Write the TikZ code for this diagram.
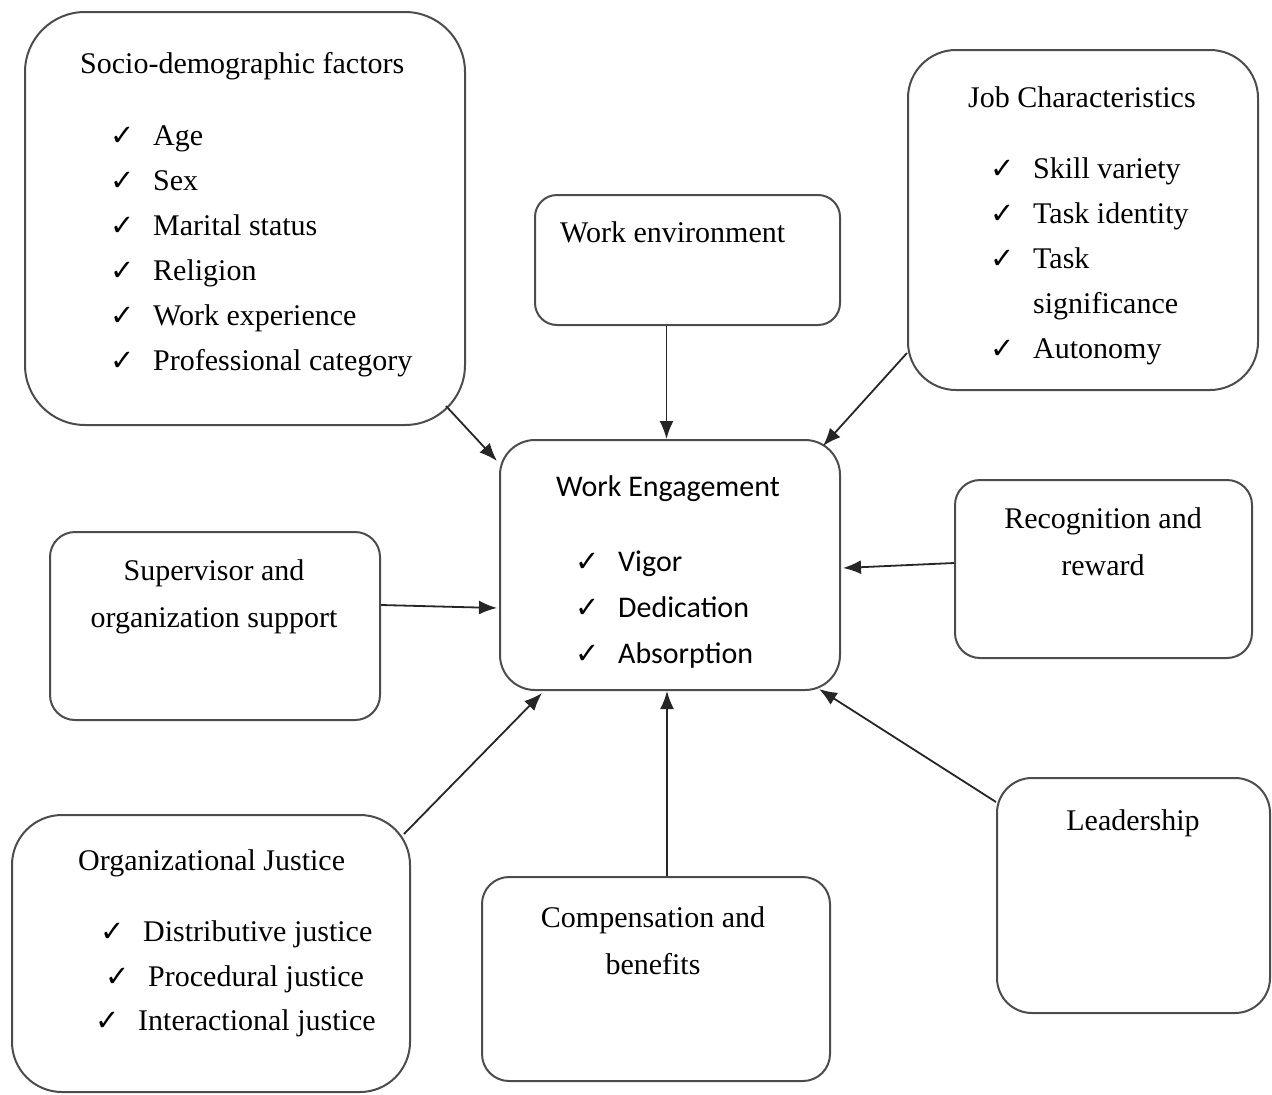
\documentclass[tikz,border=0pt]{standalone}
\usepackage{fontspec}
\setmainfont{Liberation Serif}
\newfontfamily\engfont{Carlito}
\newfontfamily\symfont{DejaVu Sans}
\usetikzlibrary{arrows.meta,calc}
\newcommand{\chk}{\makebox[43pt][l]{\symfont\fontsize{29}{29}\selectfont ✓}}
\newcommand{\nochk}{\hspace*{43pt}}

\tikzset{
  box/.style={draw=black!70, line width=2pt, rectangle, inner sep=0pt},
  lbl/.style={inner sep=0pt, font=\fontsize{30}{36}\selectfont, text height=24pt, text depth=4pt},
  arr/.style={draw=black!85, line width=1.8pt, -{Latex[length=18pt,width=14pt]}},
}

\begin{document}
\begin{tikzpicture}[x=1pt, y=-1pt]
  \useasboundingbox (0,0) rectangle (1272,1095);
  % boxes
  \node[box, rounded corners=60pt, minimum width=440pt, minimum height=413pt] (socio) at (245,218.5) {};
  \node[box, rounded corners=22pt, minimum width=305pt, minimum height=130pt] (workenv) at (687.5,260) {};
  \node[box, rounded corners=48pt, minimum width=350pt, minimum height=340pt] (job) at (1083,220) {};
  \node[box, rounded corners=35pt, minimum width=340pt, minimum height=250pt] (engage) at (670,565) {};
  \node[box, rounded corners=25pt, minimum width=330pt, minimum height=188pt] (superv) at (215,626) {};
  \node[box, rounded corners=25pt, minimum width=297pt, minimum height=178pt] (recog) at (1103.5,569) {};
  \node[box, rounded corners=50pt, minimum width=398pt, minimum height=277pt] (justice) at (211,953.5) {};
  \node[box, rounded corners=27pt, minimum width=348pt, minimum height=204pt] (comp) at (656,979) {};
  \node[box, rounded corners=35pt, minimum width=273pt, minimum height=235pt] (leader) at (1133.5,895.5) {};

  % socio-demographic factors
  \node[lbl, anchor=west] (sdtitle) at (80,63) {Socio-demographic factors};
  \foreach \t [count=\i] in {Age, Sex, Marital status, Religion, Work experience, Professional category}
    \node[lbl, anchor=west] (sd\i) at (110, 90+45*\i) {\chk\t};

  % job characteristics
  \node[lbl, anchor=west] (jctitle) at (968,97) {Job Characteristics};
  \foreach \c/\t [count=\i] in {\chk/Skill variety, \chk/Task identity, \chk/Task, \nochk/significance, \chk/Autonomy}
    \node[lbl, anchor=west] (jc\i) at (990, 122.8+45.2*\i) {\c\t};

  \node[lbl, anchor=west] (wetext) at (560,232) {Work environment};

  % work engagement
  \node[lbl, font=\engfont\fontsize{30}{36}\selectfont] (wetitle) at (668,486) {Work Engagement};
  \foreach \t [count=\i] in {Vigor, Dedication, Absorption}
    \node[lbl, anchor=west, font=\engfont\fontsize{30}{36}\selectfont] (eng\i) at (575, 515.5+46*\i) {\chk\t};

  \node[lbl] (sv1) at (214,570) {Supervisor and};
  \node[lbl] (sv2) at (214,617) {organization support};

  \node[lbl] (rr1) at (1103,518) {Recognition and};
  \node[lbl] (rr2) at (1103,565) {reward};

  % organizational justice
  \node[lbl, anchor=west] (ojtitle) at (78,860) {Organizational Justice};
  \foreach \x/\t [count=\i] in {100/Distributive justice, 105/Procedural justice, 95/Interactional justice}
    \node[lbl, anchor=west] (oj\i) at (\x, 887+44.5*\i) {\chk\t};

  \node[lbl] (cb1) at (653,917) {Compensation and};
  \node[lbl] (cb2) at (653,964) {benefits};

  \node[lbl] (ld) at (1133,820) {Leadership};

  % arrows into work engagement
  \coordinate (wedown) at ($(workenv.south)+(-21,0)$);
  \coordinate (cbup) at ($(comp.north)+(11,0)$);
  \draw[arr] ($(socio.south east)+(-20,-20)$) -- ($(engage.north west)+(-2,22)$);
  \draw[arr] (wedown) -- (wedown |- engage.north);
  \draw[arr] ($(job.south west)+(0,-38)$) -- ($(engage.north east)+(-18,7)$);
  \draw[arr] ($(recog.west)+(0,-6)$) -- ($(engage.east)+(2,3)$);
  \draw[arr] ($(superv.east)+(0,-21)$) -- ($(engage.west)+(-2,43)$);
  \draw[arr] ($(justice.north east)+(-7,20)$) -- ($(engage.south west)+(43,2)$);
  \draw[arr] (cbup) -- (cbup |- engage.south);
  \draw[arr] ($(leader.north west)+(0,25)$) -- ($(engage.south east)+(-22,-2)$);
\end{tikzpicture}
\end{document}
